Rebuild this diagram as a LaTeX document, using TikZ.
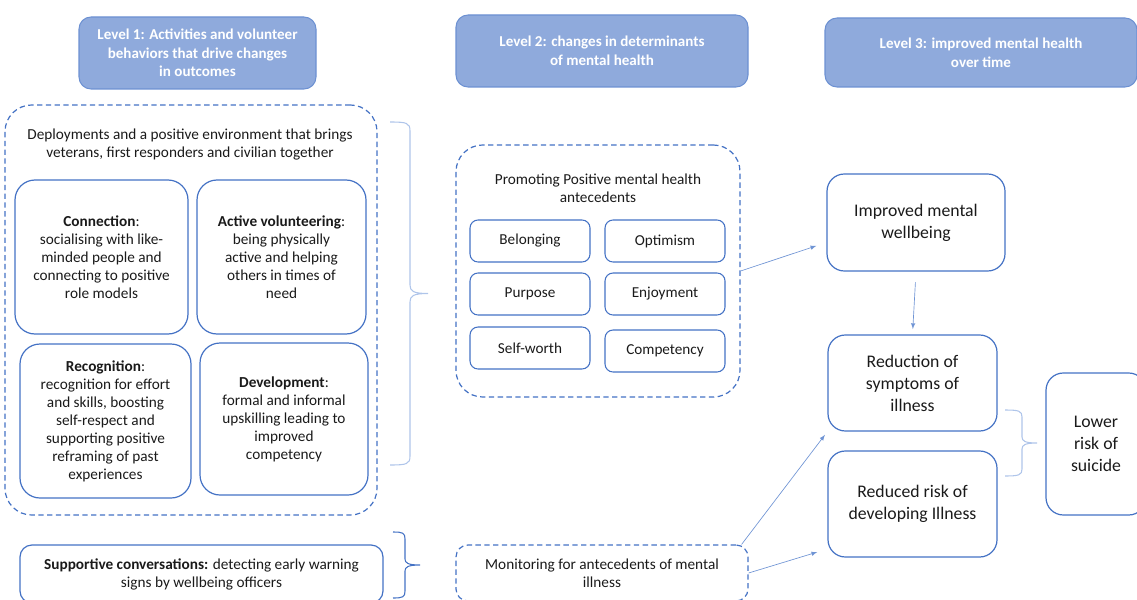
\documentclass[tikz,border=0pt]{standalone}
\usepackage{fontspec}
\setmainfont{Carlito}
\usetikzlibrary{calc}

\definecolor{edgeblue}{HTML}{4472C4}
\definecolor{headfill}{HTML}{8FAADC}
\definecolor{headedge}{HTML}{6D91D2}
\definecolor{bracecol}{HTML}{AFC5EA}
\definecolor{arrowcol}{HTML}{6F94D4}
\definecolor{inktext}{HTML}{1A1A1A}

\tikzset{
  header/.style={draw=headedge, fill=headfill, line width=0.8pt, rounded corners=9pt,
    text=white, align=center, font=\fontsize{11.3}{14}\selectfont\bfseries},
  dashbox/.style={draw=edgeblue, line width=0.9pt, dash pattern=on 4pt off 2.6pt,
    rounded corners=20pt, text=inktext, align=center, font=\fontsize{11.45}{13.5}\selectfont},
  card/.style={draw=edgeblue, line width=0.9pt, rounded corners=15pt,
    text=inktext, align=center, font=\fontsize{11.45}{13.5}\selectfont},
  smallcard/.style={draw=edgeblue, line width=0.8pt, rounded corners=6pt,
    minimum width=90pt, minimum height=31.5pt, text=inktext,
    font=\fontsize{11.4}{13.5}\selectfont},
  outcome/.style={draw=edgeblue, line width=0.9pt, rounded corners=13pt,
    text=inktext, align=center, font=\fontsize{13.3}{16.5}\selectfont},
  plain/.style={text=inktext, align=center, font=\fontsize{11.45}{13.5}\selectfont},
  link/.style={draw=arrowcol, line width=0.5pt, -latex},
  bracket/.style={draw=bracecol, line width=0.8pt},
}

\begin{document}
\begin{tikzpicture}[x=0.75pt,y=-0.75pt]
  \useasboundingbox (0,0) rectangle (1137,599);
  \clip (0,0) rectangle (1137,599);

  % Level headers
  \node[header, minimum width=177.75pt, minimum height=54pt] (lvlA) at (197.5,53)
    {Level 1: Activities and volunteer\\behaviors that drive changes\\in outcomes};
  \node[header, minimum width=219pt, minimum height=54pt] (lvlB) at (602,51)
    {Level 2: changes in determinants\\of mental health};
  \node[header, minimum width=234pt, minimum height=51.75pt] (lvlC) at (981,52.5)
    {Level 3: improved mental health\\over time};

  % Level 1 activities
  \node[dashbox, minimum width=279pt, minimum height=307.5pt] (deploybox) at (191,310) {};
  \node[plain] (deploy) at (190,145)
    {Deployments and a positive environment that brings\\veterans, first responders and civilian together};
  \node[card, minimum width=129.75pt, minimum height=115.5pt] (connect) at (101.5,257)
    {\textbf{Connection}:\\socialising with like-\\minded people and\\connecting to positive\\role models};
  \node[card, minimum width=126.75pt, minimum height=115.5pt] (active) at (281.5,257)
    {\textbf{Active volunteering}:\\being physically\\active and helping\\others in times of\\need};
  \node[card, minimum width=128.25pt, minimum height=115.5pt] (recog) at (105.5,421)
    {\textbf{Recognition}:\\recognition for effort\\and skills, boosting\\self-respect and\\supporting positive\\reframing of past\\experiences};
  \node[card, minimum width=126pt, minimum height=114pt] (develop) at (284,419)
    {\textbf{Development}:\\formal and informal\\upskilling leading to\\improved\\competency};

  \node[card, rounded corners=9pt, minimum width=272.25pt, minimum height=43.5pt] (support) at (201.5,574)
    {\textbf{Supportive conversations:} detecting early warning\\signs by wellbeing officers};

  % Level 2 determinants
  \node[dashbox, minimum width=213pt, minimum height=189pt] (promobox) at (598,271) {};
  \node[plain] (promo) at (598,188) {Promoting Positive mental health\\antecedents};
  \node[smallcard] (belong) at (530,241) {Belonging};
  \node[smallcard] (optim) at (665,241) {Optimism};
  \node[smallcard] (purpose) at (530,294) {Purpose};
  \node[smallcard] (enjoy) at (665,294) {Enjoyment};
  \node[smallcard] (worth) at (530,348) {Self-worth};
  \node[smallcard] (compet) at (665,351) {Competency};

  \node[dashbox, rounded corners=9pt, minimum width=219pt, minimum height=42pt] (monitor) at (602,573)
    {Monitoring for antecedents of mental\\illness};

  % Level 3 outcomes
  \node[outcome, minimum width=133.5pt, minimum height=72.75pt] (wellb) at (916,222.5)
    {Improved mental\\wellbeing};
  \node[outcome, minimum width=126.75pt, minimum height=72pt] (reduc) at (912.5,383)
    {Reduction of\\symptoms of\\illness};
  \node[outcome, minimum width=126.75pt, minimum height=79.5pt] (lessrisk) at (912.5,504)
    {Reduced risk of\\developing Illness};
  \node[outcome, minimum width=75pt, minimum height=106.5pt] (suicide) at (1096,444)
    {Lower\\risk of\\suicide};

  % Braces
  \draw[bracket] (390,122) .. controls (407,122) and (410,123) .. (410,131) -- (410,285)
    .. controls (410,291) and (413,293.5) .. (428,293.5)
    .. controls (413,293.5) and (410,296) .. (410,302) -- (410,456)
    .. controls (410,464) and (407,465) .. (390,465);
  \draw[bracket] (1005,410) .. controls (1019,410) and (1022,411) .. (1022,417) -- (1022,437)
    .. controls (1022,441) and (1025,443) .. (1037,443)
    .. controls (1025,443) and (1022,445) .. (1022,449) -- (1022,469)
    .. controls (1022,475) and (1019,476) .. (1005,476);
  \draw[bracket, draw=edgeblue] (393,532) .. controls (403,532) and (405,533) .. (405,539) -- (405,559)
    .. controls (405,563) and (408,565) .. (420,565)
    .. controls (408,565) and (405,567) .. (405,571) -- (405,591)
    .. controls (405,597) and (403,598) .. (393,598);

  % Arrows
  \draw[link, shorten >=8pt] (promobox.east) -- ($(wellb.west)+(0,20)$);
  \draw[link, shorten <=8pt, shorten >=4pt] (wellb.south) -- (reduc.north);
  \draw[link, shorten >=3pt] ($(monitor.north east)+(-7,0)$) -- (reduc.south west);
  \draw[link, shorten >=8pt] (monitor.east) -- ($(lessrisk.west)+(0,45)$);
\end{tikzpicture}
\end{document}
